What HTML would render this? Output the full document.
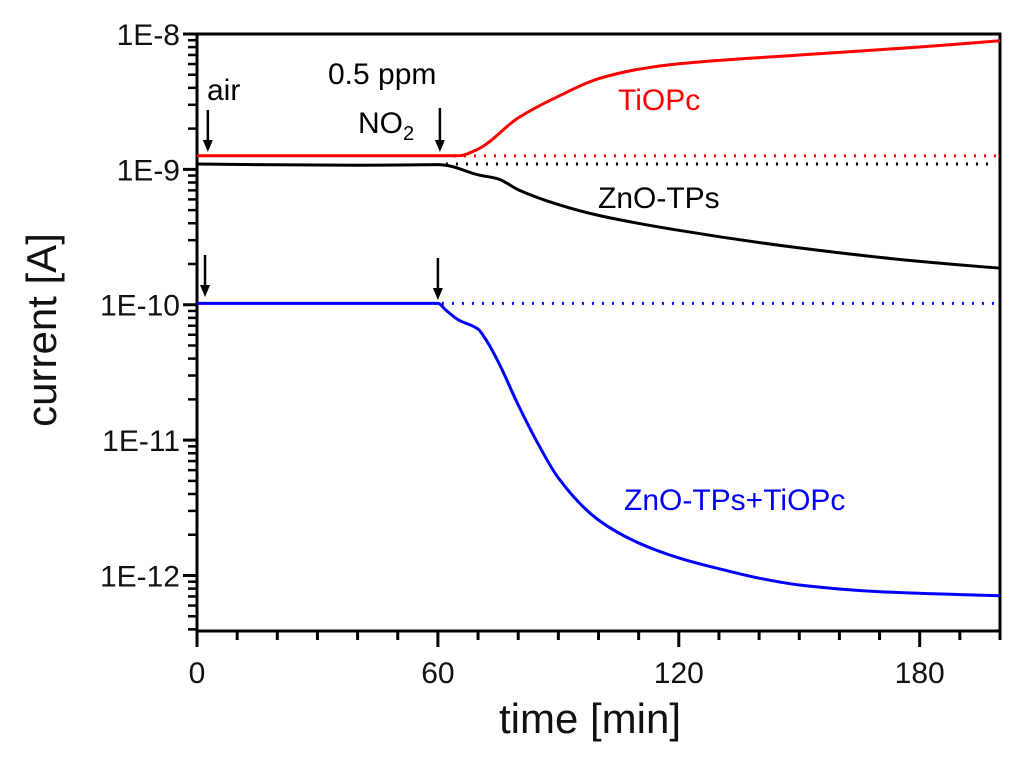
<!DOCTYPE html>
<html><head><meta charset="utf-8"><style>
body{margin:0;background:#fff;}
svg{display:block;font-family:"Liberation Sans",Arial,sans-serif;}
</style></head><body>
<svg id="chart" width="1024" height="768" viewBox="0 0 1024 768">
<g id="plot"></g>
</svg>
<script>
const xTicks=[0,60,120,180];
const yTickExp=[-8,-9,-10,-11,-12];
const yTickLabels=["1E-8","1E-9","1E-10","1E-11","1E-12"];
const tiopcT=[0,60,65,70,80,90,100,110,120,150,180,200];
const tiopcLog=[-8.90,-8.90,-8.90,-8.85,-8.62,-8.46,-8.33,-8.26,-8.22,-8.155,-8.096,-8.05];
const znoT=[0,40,60,62,70,75,80,90,100,120,150,180,200];
const znoLog=[-8.96,-8.97,-8.965,-8.97,-9.04,-9.07,-9.15,-9.26,-9.34,-9.45,-9.58,-9.68,-9.73];
const hybT=[0,60,62,65,70,72,75,80,85,90,100,110,120,130,140,150,170,200];
const hybLog=[-9.99,-9.99,-10.04,-10.11,-10.18,-10.26,-10.42,-10.74,-11.03,-11.28,-11.59,-11.76,-11.87,-11.95,-12.02,-12.07,-12.12,-12.15];

const X0=197,X1=1000,Y0=34,Y1=631;
const xMin=0,xMax=200,logMax=-8,logMin=-12.41;
const sx=t=>X0+(t-xMin)/(xMax-xMin)*(X1-X0);
const sy=l=>Y0+(logMax-l)/(logMax-logMin)*(Y1-Y0);
const NS="http://www.w3.org/2000/svg";
const g=document.getElementById('plot');
function mk(tag,attrs,parent){const e=document.createElementNS(NS,tag);for(const k in attrs)e.setAttribute(k,attrs[k]);(parent||g).appendChild(e);return e;}

const frame=mk('rect',{x:X0,y:Y0,width:X1-X0,height:Y1-Y0,fill:'none',stroke:'#000','stroke-width':3});



for(let t=0;t<=200;t+=10){
  const major=xTicks.includes(t);
  const l=mk('line',{x1:sx(t),x2:sx(t),y1:Y1,y2:Y1+(major?16:9),stroke:'#000','stroke-width':3});
  
  
}
xTicks.forEach(t=>{
  const tx=mk('text',{x:sx(t),y:683,'font-size':30,'text-anchor':'middle',fill:'#111'});
  tx.textContent=t;
  
  
});
yTickExp.forEach((e,i)=>{
  const l=mk('line',{x1:X0-14,x2:X0,y1:sy(e),y2:sy(e),stroke:'#000','stroke-width':3});
  
  
  const tx=mk('text',{x:X0-17,y:sy(e)+11,'font-size':30,'text-anchor':'end',fill:'#111'});
  tx.textContent=yTickLabels[i];
  
  
  for(let m=2;m<=9;m++){
    const lv=e-1+Math.log10(m);
    if(lv<logMin)continue;
    const ml=mk('line',{x1:X0-9,x2:X0,y1:sy(lv),y2:sy(lv),stroke:'#000','stroke-width':2.5});
    
    
  }
});
const xt=mk('text',{x:590,y:733,'font-size':42,'text-anchor':'middle',fill:'#111'});
xt.textContent='time [min]';


const yt=mk('text',{x:0,y:0,'font-size':42,'text-anchor':'middle',fill:'#111',transform:'translate(56,330) rotate(-90)'});
yt.textContent='current [A]';



// monotone cubic (Fritsch-Carlson) path
function monoPath(P){
  const n=P.length,dx=[],m=[],t=new Array(n);
  for(let i=0;i<n-1;i++){dx[i]=P[i+1][0]-P[i][0];m[i]=(P[i+1][1]-P[i][1])/dx[i];}
  t[0]=m[0];t[n-1]=m[n-2];
  for(let i=1;i<n-1;i++){
    if(m[i-1]*m[i]<=0)t[i]=0;
    else{const w1=2*dx[i]+dx[i-1],w2=dx[i]+2*dx[i-1];t[i]=(w1+w2)/(w1/m[i-1]+w2/m[i]);}
  }
  let d='M'+P[0][0].toFixed(1)+' '+P[0][1].toFixed(1);
  for(let i=0;i<n-1;i++){
    const h=dx[i]/3;
    d+=` C${(P[i][0]+h).toFixed(1)} ${(P[i][1]+t[i]*h).toFixed(1)} ${(P[i+1][0]-h).toFixed(1)} ${(P[i+1][1]-t[i+1]*h).toFixed(1)} ${P[i+1][0].toFixed(1)} ${P[i+1][1].toFixed(1)}`;
  }
  return d;
}
function series(T,L,color,name,dotStart){
  const P=T.map((t,i)=>[sx(t),sy(L[i])]);
  const p=mk('path',{d:monoPath(P),fill:'none',stroke:color,'stroke-width':3,'stroke-linejoin':'round'});
  
  
  const dl=mk('line',{x1:sx(dotStart),x2:X1-4,y1:sy(L[0]),y2:sy(L[0]),stroke:color,'stroke-width':3,'stroke-dasharray':'2 8'});
  
  
}
series(tiopcT,tiopcLog,'#f00','tiopc',64);
series(znoT,znoLog,'#000','zno-tps',62);
series(hybT,hybLog,'#00f','zno-tps-tiopc',61);

function label(x,y,txt,color,name,size){
  const t=mk('text',{x:x,y:y,'font-size':size||30,fill:color});
  t.textContent=txt;
  
  
  return t;
}
label(618,110,'TiOPc','#f00','tiopc-label');
label(598,208,'ZnO-TPs','#000','zno-tps-label');
label(624,510,'ZnO-TPs+TiOPc','#00f','hybrid-label');
label(207,100,'air','#000','air-label');
label(328,84,'0.5 ppm','#000','concentration-label');
const no2=label(358,133,'NO','#000','no2-label');
const sub=mk('tspan',{'font-size':20,dy:7},no2);sub.textContent='2';

function arrow(t,ya,yb,name){
  const x=sx(t);
  const l=mk('line',{x1:x,x2:x,y1:ya,y2:yb-10,stroke:'#000','stroke-width':2.5});
  
  
  const h=mk('polygon',{points:`${x-5},${yb-12} ${x+5},${yb-12} ${x},${yb}`,fill:'#000'});
  
  
}
arrow(2.7,110,152,'air-arrow');
arrow(60.5,108,152,'no2-arrow');
arrow(2,255,297,'air-arrow-hybrid');
arrow(60,258,300,'no2-arrow-hybrid');
</script>
</body></html>
